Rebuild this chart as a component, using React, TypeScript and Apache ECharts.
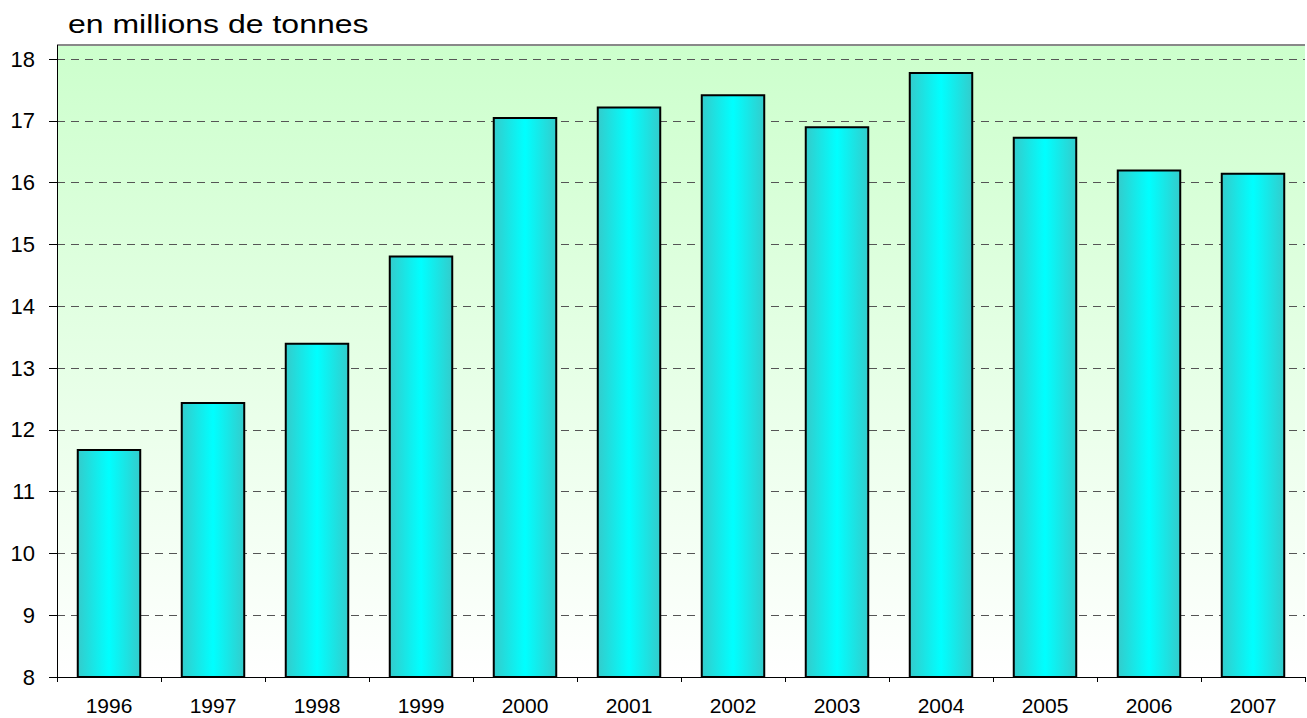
import React, { useEffect, useRef } from "react";
import * as echarts from "echarts";

const years = ["1996", "1997", "1998", "1999", "2000", "2001", "2002", "2003", "2004", "2005", "2006", "2007"];
const values = [11.69, 12.45, 13.41, 14.82, 17.06, 17.23, 17.43, 16.91, 17.79, 16.74, 16.21, 16.16];
const yTicks = [8, 9, 10, 11, 12, 13, 14, 15, 16, 17, 18];
const titleText = "en millions de tonnes";

const W = 1307;
const H = 718;
const gridLeft = 57;
const gridRight = 2;
const gridTop = 59;
const gridBottom = 41;
const plotTop = 45;

export default function App() {
  const ref = useRef<HTMLDivElement>(null);
  useEffect(() => {
    if (!ref.current) return;
    const chart = echarts.init(ref.current, null, { renderer: "svg" });
    const font = "'Liberation Sans', Arial, sans-serif";
    chart.setOption({
      animation: false,
      backgroundColor: "#ffffff",
      graphic: [
        {
          type: "rect",
          z: -10,
          silent: true,
          shape: { x: gridLeft, y: plotTop, width: W - gridLeft - gridRight, height: H - gridBottom - plotTop },
          style: {
            fill: new echarts.graphic.LinearGradient(0, 0, 0, 1, [
              { offset: 0, color: "#ccffcc" },
              { offset: 1, color: "#ffffff" },
            ]),
          },
        },
        {
          type: "line",
          z: 100,
          silent: true,
          shape: { x1: gridLeft, y1: plotTop, x2: W - gridRight, y2: plotTop },
          style: { stroke: "#888888", lineWidth: 2 },
        },
        {
          type: "line",
          z: 100,
          silent: true,
          shape: { x1: gridLeft + 0.5, y1: plotTop, x2: gridLeft + 0.5, y2: gridTop },
          style: { stroke: "#000000", lineWidth: 1 },
        },
        {
          type: "text",
          z: 100,
          silent: true,
          x: 68,
          y: 24,
          scaleX: 1.28,
          scaleY: 1,
          style: {
            text: titleText,
            font: "25px 'Liberation Sans', Arial, sans-serif",
            fill: "#000",
            verticalAlign: "middle",
            align: "left",
          },
        },
      ],
      grid: { left: gridLeft, right: gridRight, top: gridTop, bottom: gridBottom, containLabel: false },
      xAxis: {
        type: "category",
        data: years,
        boundaryGap: true,
        axisLine: { show: true, lineStyle: { color: "#000", width: 1 } },
        axisTick: { show: true, alignWithLabel: false, length: 5, lineStyle: { color: "#000" } },
        axisLabel: { fontFamily: font, fontSize: 21, color: "#000", margin: 18 },
      },
      yAxis: {
        type: "value",
        min: yTicks[0],
        max: yTicks[yTicks.length - 1],
        interval: 1,
        axisLine: { show: true, lineStyle: { color: "#000", width: 1 } },
        axisTick: { show: true, length: 8, lineStyle: { color: "#000" } },
        axisLabel: { fontFamily: font, fontSize: 22, color: "#000", margin: 22 },
        splitLine: { show: true, lineStyle: { color: "#555555", width: 1, type: [8, 6] } },
      },
      series: [
        {
          type: "bar",
          data: values,
          barWidth: "62%",
          itemStyle: {
            color: new echarts.graphic.LinearGradient(0, 0, 1, 0, [
              { offset: 0, color: "#33cccc" },
              { offset: 0.5, color: "#00ffff" },
              { offset: 1, color: "#33cccc" },
            ]),
            borderColor: "#000",
            borderWidth: 2,
          },
        },
      ],
    });
    return () => chart.dispose();
  }, []);
  return <div ref={ref} style={{ position: "fixed", left: 0, top: 0, width: W, height: H }} />;
}
